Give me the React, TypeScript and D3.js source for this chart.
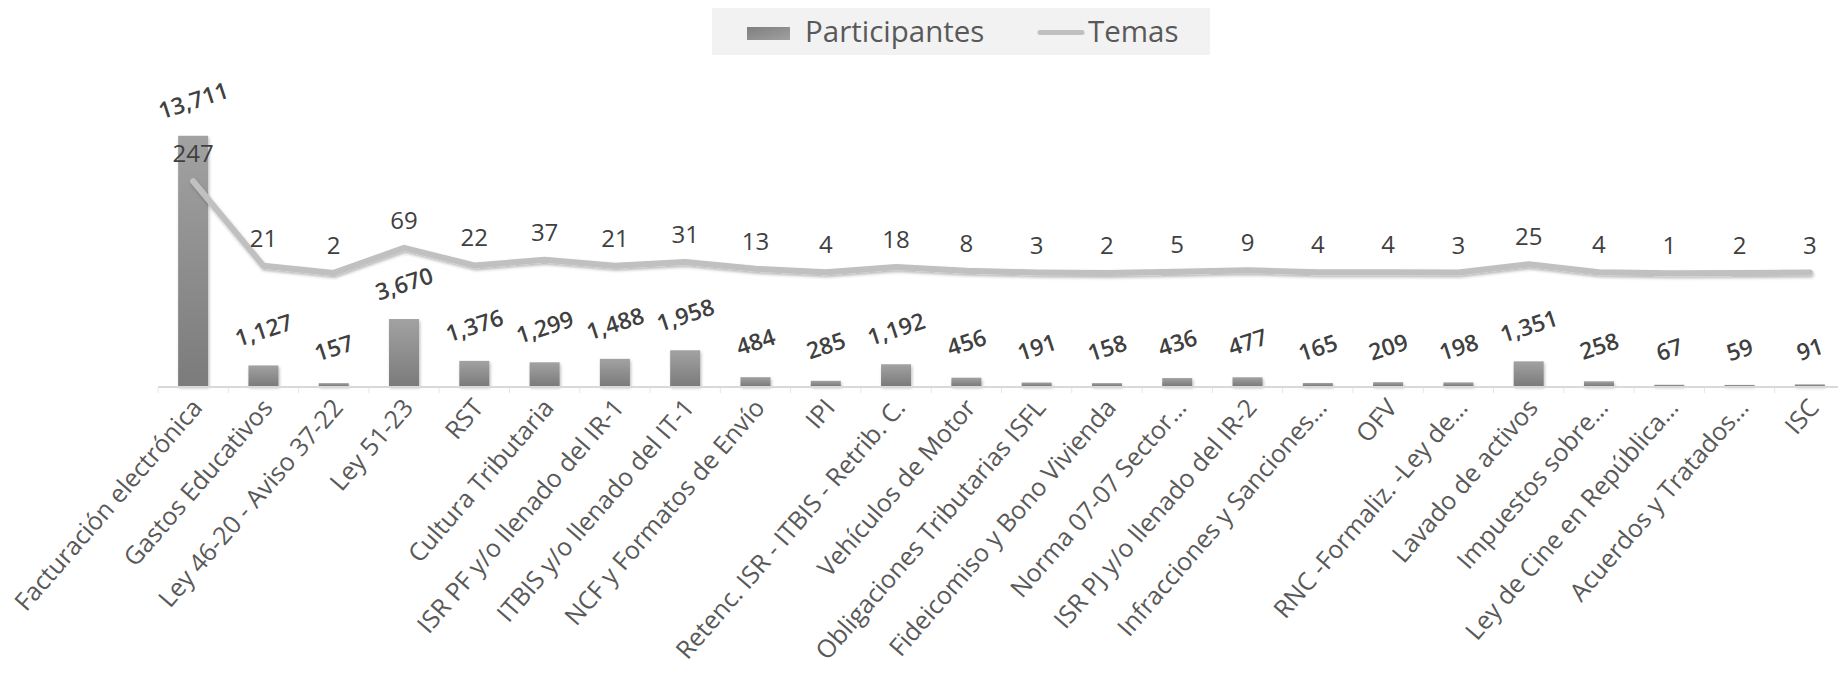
import React from "react";
import * as d3 from "d3";

const categories = [
  "Facturación electrónica",
  "Gastos Educativos",
  "Ley 46-20 - Aviso 37-22",
  "Ley 51-23",
  "RST",
  "Cultura Tributaria",
  "ISR PF y/o llenado del IR-1",
  "ITBIS y/o llenado del IT-1",
  "NCF y Formatos de Envío",
  "IPI",
  "Retenc. ISR - ITBIS - Retrib. C.",
  "Vehículos de Motor",
  "Obligaciones Tributarias ISFL",
  "Fideicomiso y Bono Vivienda",
  "Norma 07-07 Sector…",
  "ISR PJ y/o llenado del IR-2",
  "Infracciones y Sanciones…",
  "OFV",
  "RNC -Formaliz. -Ley de…",
  "Lavado de activos",
  "Impuestos sobre…",
  "Ley de Cine en República…",
  "Acuerdos y Tratados…",
  "ISC",
];

const participantes = [
  13711, 1127, 157, 3670, 1376, 1299, 1488, 1958, 484, 285, 1192, 456, 191, 158,
  436, 477, 165, 209, 198, 1351, 258, 67, 59, 91,
];

const temas = [
  247, 21, 2, 69, 22, 37, 21, 31, 13, 4, 18, 8, 3, 2, 5, 9, 4, 4, 3, 25, 4, 1, 2, 3,
];

const seriesNames = ["Participantes", "Temas"];

const W = 1838;
const H = 679;
const FONT = "'Open Sans', 'Noto Sans', sans-serif";

export default function App() {
  const x = d3
    .scaleBand<string>()
    .domain(categories)
    .range([158, 1845])
    .paddingInner(0.573)
    .paddingOuter(0.2865);
  const yBar = d3.scaleLinear().domain([0, 16000]).range([386, 94]);
  const yLine = d3.scaleLinear().domain([-300, 480]).range([386, 94]);
  const cx = (c: string) => (x(c) as number) + x.bandwidth() / 2;
  const step = x.step();
  const fmt = d3.format(",");

  const line = d3
    .line<number>()
    .x((_, i) => cx(categories[i]))
    .y((d) => yLine(d));

  const base = yBar(0);

  return (
    <svg
      width={W}
      height={H}
      style={{ position: "absolute", left: 0, top: 0, background: "#fff" }}
      fontFamily={FONT}
    >
      <defs>
        <linearGradient id="barGrad" x1="0" y1="0" x2="0" y2="1">
          <stop offset="0%" stopColor="#a2a2a2" />
          <stop offset="100%" stopColor="#7b7b7b" />
        </linearGradient>
        <linearGradient id="swGrad" x1="0" y1="0" x2="1" y2="1">
          <stop offset="0%" stopColor="#7f7f7f" />
          <stop offset="100%" stopColor="#a0a0a0" />
        </linearGradient>
        <filter id="shadow" x="-30%" y="-30%" width="160%" height="160%">
          <feDropShadow dx="1" dy="2" stdDeviation="1.6" floodColor="#000" floodOpacity="0.28" />
        </filter>
      </defs>

      {/* Legend */}
      <rect x={712} y={8} width={498} height={47} fill="#f2f2f2" />
      <rect x={747} y={27} width={43} height={13} fill="url(#swGrad)" />
      <text x={805} y={42} fontSize={29.5} fill="#595959">
        {seriesNames[0]}
      </text>
      <line x1={1040} y1={32.5} x2={1082} y2={32.5} stroke="#c0c0c0" strokeWidth={5} strokeLinecap="round" />
      <text x={1088} y={42} fontSize={29.5} fill="#595959">
        {seriesNames[1]}
      </text>

      {/* Bars */}
      <g filter="url(#shadow)">
        {participantes.map((v, i) => (
          <rect
            key={i}
            x={x(categories[i])}
            y={yBar(v)}
            width={x.bandwidth()}
            height={base - yBar(v)}
            fill="url(#barGrad)"
          />
        ))}
      </g>

      {/* Axis baseline and ticks */}
      <line x1={158} y1={base + 1} x2={1845} y2={base + 1} stroke="#d9d9d9" strokeWidth={2} />
      {categories.map((c, i) => (
        <line
          key={i}
          x1={(x(c) as number) - (step - x.bandwidth()) / 2}
          x2={(x(c) as number) - (step - x.bandwidth()) / 2}
          y1={base + 2}
          y2={base + 7}
          stroke="#e6e6e6"
          strokeWidth={1}
        />
      ))}

      {/* Line */}
      <path
        d={line(temas) || ""}
        fill="none"
        stroke="#c0c0c0"
        strokeWidth={6}
        strokeLinecap="round"
        strokeLinejoin="round"
        filter="url(#shadow)"
      />

      {/* Bar labels */}
      {participantes.map((v, i) => {
        const px = cx(categories[i]);
        const py = yBar(v) - 36;
        return (
          <text
            key={i}
            x={px}
            y={py}
            transform={`rotate(-18 ${px} ${py})`}
            textAnchor="middle"
            dominantBaseline="central"
            fontSize={23}
            fontWeight={600}
            fill="#404040"
          >
            {fmt(v)}
          </text>
        );
      })}

      {/* Line labels */}
      {temas.map((v, i) => (
        <text
          key={i}
          x={cx(categories[i])}
          y={yLine(v) - 19}
          textAnchor="middle"
          fontSize={24}
          fill="#404040"
        >
          {v}
        </text>
      ))}

      {/* Category labels */}
      {categories.map((c, i) => {
        const px = cx(c) + 3;
        const py = base + 16;
        return (
          <text
            key={i}
            x={px}
            y={py}
            transform={`rotate(-49 ${px} ${py})`}
            textAnchor="end"
            dominantBaseline="central"
            fontSize={25}
            fill="#595959"
          >
            {c}
          </text>
        );
      })}
    </svg>
  );
}
